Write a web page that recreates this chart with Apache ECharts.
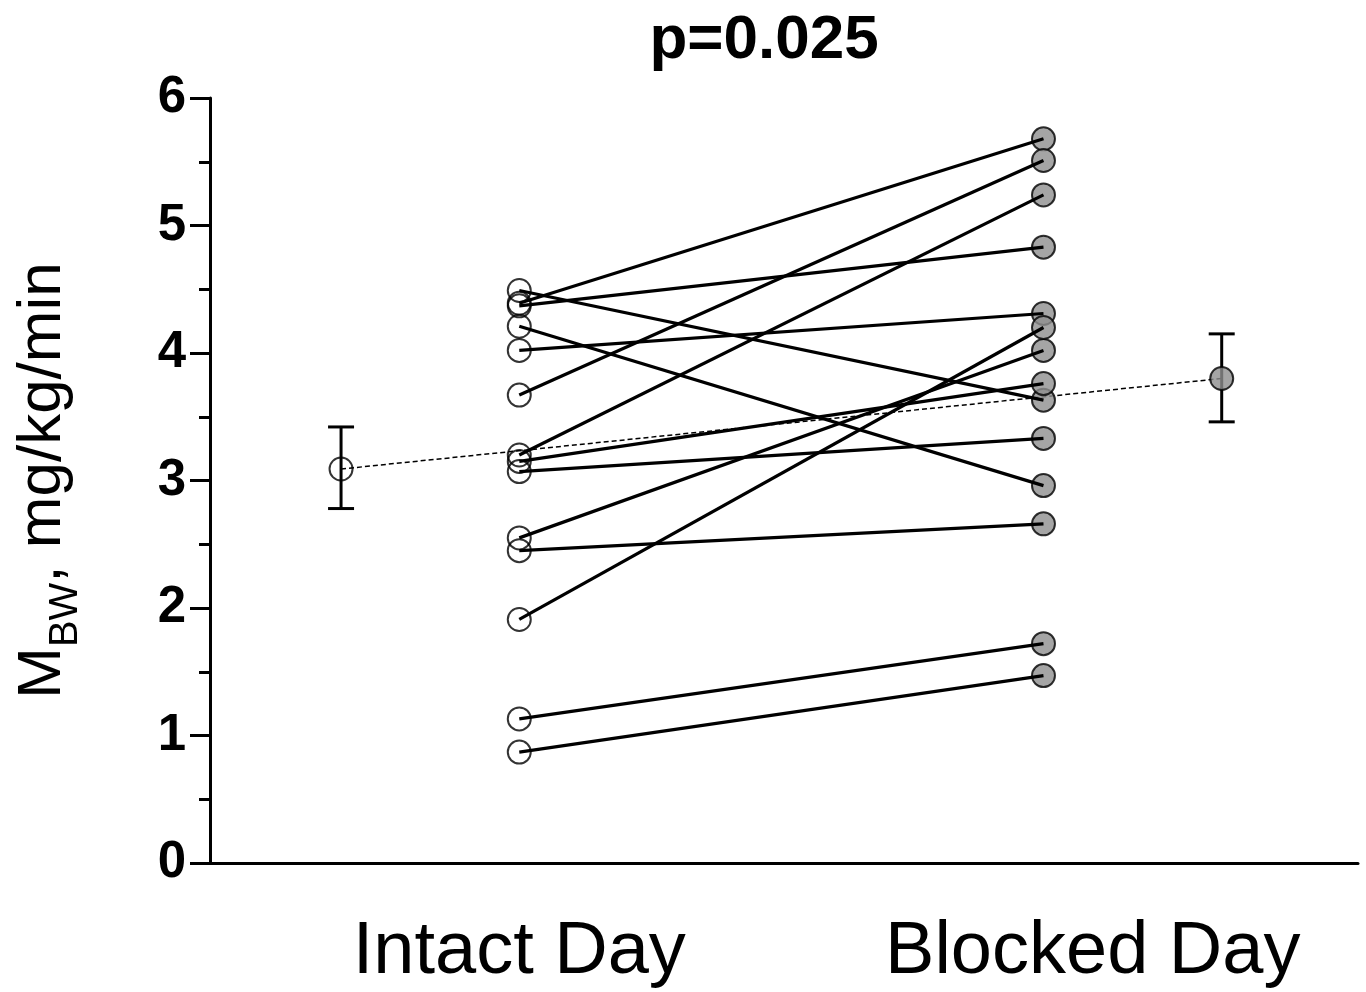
<!DOCTYPE html>
<html>
<head>
<meta charset="utf-8">
<script src="https://cdn.jsdelivr.net/npm/echarts@6/dist/echarts.min.js"></script>
<style>
  html, body { margin: 0; padding: 0; background: #fff; }
  #chart { width: 1366px; height: 992px; }
</style>
</head>
<body>
<div id="chart"></div>
<script>
// values, one pair per subject
const intactVals = [4.49, 4.39, 4.37, 4.21, 4.02, 3.67, 3.20, 3.15, 3.07, 2.55, 2.45, 1.91, 1.13, 0.87];
const blockedVals = [3.63, 5.68, 4.83, 2.96, 4.31, 5.51, 5.24, 3.76, 3.33, 4.02, 2.66, 4.20, 1.72, 1.47];

// group means with error bars
const meanX = [0.66, 2.34];
const meanVals = [3.09, 3.80];
const meanLow = [2.78, 3.46];
const meanHigh = [3.42, 4.15];

const dayLabels = ['Intact Day', 'Blocked Day'];
const yTicks = [0, 1, 2, 3, 4, 5, 6];

const font = 'Liberation Sans, Arial, sans-serif';
const gray = '#8f8f8f';

const chart = echarts.init(document.getElementById('chart'));

const pairSeries = intactVals.map((v, i) => ({
    type: 'line',
    data: [[1, v], [2, blockedVals[i]]],
    showSymbol: false,
    silent: true,
    z: 4,
    lineStyle: {color: '#000', width: 3.2},
}));

const option = {
    animation: false,
    title: {
        text: 'p=0.025',
        left: 759,
        textAlign: 'center',
        top: 5,
        textStyle: {fontFamily: font, fontWeight: 'bold', fontSize: 62, color: '#000'},
    },
    grid: {left: 210, right: 8, top: 98, bottom: 129},
    xAxis: {
        type: 'value',
        min: 0.41,
        max: 2.6,
        splitLine: {show: false},
        axisTick: {show: false},
        axisLine: {lineStyle: {color: '#000', width: 3}},
        axisLabel: {
            customValues: [1, 2.094],
            formatter: v => (v < 1.5 ? dayLabels[0] : dayLabels[1]),
            fontFamily: font,
            fontSize: 74,
            color: '#000',
            margin: 53,
        },
    },
    yAxis: {
        type: 'value',
        min: yTicks[0],
        max: yTicks[yTicks.length - 1],
        interval: 1,
        splitLine: {show: false},
        axisLine: {show: true, lineStyle: {color: '#000', width: 3}},
        axisTick: {show: true, length: 20, lineStyle: {color: '#000', width: 3}},
        minorTick: {show: true, splitNumber: 2, length: 11, lineStyle: {color: '#000', width: 3}},
        axisLabel: {
            fontFamily: font,
            fontWeight: 'bold',
            fontSize: 51,
            color: '#000',
            margin: 24,
        },
        name: '{m|M}{s|BW}{m|, mg/kg/min}',
        nameLocation: 'middle',
        nameRotate: 90,
        nameGap: 124,
        nameTextStyle: {
            rich: {
                m: {fontFamily: font, fontSize: 62, color: '#000', verticalAlign: 'bottom', padding: [0, 0, 12, 0]},
                s: {fontFamily: font, fontSize: 40, color: '#000', verticalAlign: 'bottom'},
            },
        },
    },
    series: [
        {
            type: 'custom',
            z: 2,
            silent: true,
            data: meanX.map((x, i) => [x, meanLow[i], meanHigh[i]]),
            renderItem: (params, api) => {
                const x = api.value(0);
                const lo = api.coord([x, api.value(1)]);
                const hi = api.coord([x, api.value(2)]);
                const w = 13;
                const style = {stroke: '#000', lineWidth: 3};
                return {
                    type: 'group',
                    children: [
                        {type: 'line', shape: {x1: lo[0], y1: lo[1], x2: hi[0], y2: hi[1]}, style},
                        {type: 'line', shape: {x1: lo[0] - w, y1: lo[1], x2: lo[0] + w, y2: lo[1]}, style},
                        {type: 'line', shape: {x1: hi[0] - w, y1: hi[1], x2: hi[0] + w, y2: hi[1]}, style},
                    ],
                };
            },
        },
        {
            type: 'line',
            z: 2,
            silent: true,
            showSymbol: false,
            data: meanX.map((x, i) => [x, meanVals[i]]),
            lineStyle: {color: '#000', width: 1.5, type: [5, 3]},
        },
        {
            type: 'scatter',
            z: 3,
            symbolSize: 23,
            data: [[meanX[0], meanVals[0]]],
            itemStyle: {color: 'rgba(0,0,0,0)', borderColor: '#000', borderWidth: 2},
        },
        {
            type: 'scatter',
            z: 3,
            symbolSize: 23,
            data: [[meanX[1], meanVals[1]]],
            itemStyle: {color: gray, borderColor: '#000', borderWidth: 2},
        },
        {
            type: 'scatter',
            z: 3,
            symbolSize: 23,
            data: blockedVals.map(v => [2, v]),
            itemStyle: {color: gray, borderColor: '#000', borderWidth: 2},
        },
        ...pairSeries,
        {
            type: 'scatter',
            z: 5,
            symbolSize: 23,
            data: intactVals.map(v => [1, v]),
            itemStyle: {color: 'rgba(0,0,0,0)', borderColor: '#000', borderWidth: 2},
        },
    ],
};

chart.setOption(option);
</script>
</body>
</html>
